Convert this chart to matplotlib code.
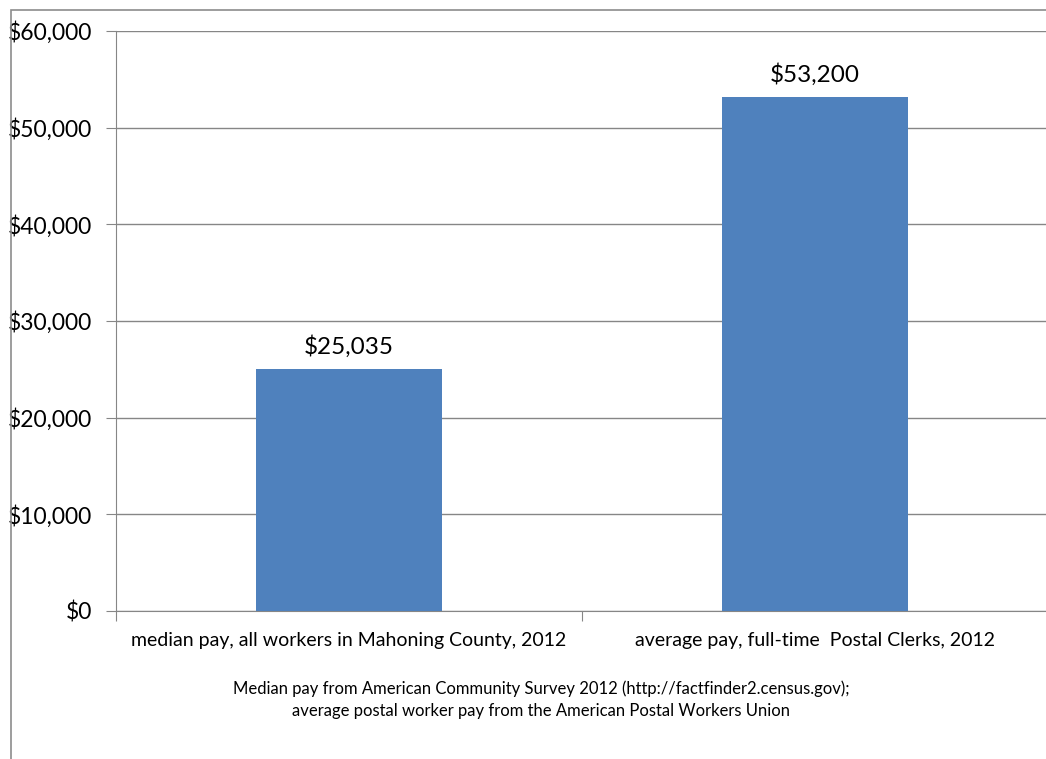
import matplotlib.pyplot as plt
from matplotlib.patches import Rectangle
from matplotlib.ticker import FuncFormatter

categories = ['median pay, all workers in Mahoning County, 2012',
              'average pay, full-time  Postal Clerks, 2012']
values = [25035, 53200]
yticks = [0, 10000, 20000, 30000, 40000, 50000, 60000]
note = ('Median pay from American Community Survey 2012 (http://factfinder2.census.gov);\n'
        'average postal worker pay from the American Postal Workers Union')

plt.rcParams['font.family'] = ['Lato', 'DejaVu Sans']

W, H = 1046, 759
fig = plt.figure(figsize=(W / 100, H / 100), dpi=100)
ax = fig.add_axes([116 / W, 1 - 611 / H, (1048 - 116) / W, (611 - 31) / H])

# outer chart border
fig.patches.append(Rectangle((11 / W, -0.05), 1.1, 1 - 10 / H + 0.05,
                             transform=fig.transFigure, fill=False,
                             edgecolor='#8c8c8c', linewidth=1.2))

x = range(len(categories))
bars = ax.bar(x, values, width=0.397, color='#4F81BD', zorder=3)
ax.set_xlim(-0.5, 1.5)
ax.set_ylim(0, 60000)
ax.set_yticks(yticks)
ax.yaxis.set_major_formatter(FuncFormatter(lambda v, p: '${:,.0f}'.format(v)))
ax.grid(axis='y', color='#868686', linewidth=1, zorder=0)

ax.set_xticks([-0.5, 0.5, 1.5])
ax.set_xticklabels([])
ax.set_xticks([0, 1], minor=True)
ax.set_xticklabels(categories, minor=True, fontsize=14)
ax.tick_params(axis='x', which='minor', length=0, pad=15)
ax.tick_params(axis='x', which='major', length=7, color='#868686')
ax.tick_params(axis='y', length=7, color='#868686', labelsize=16.5, pad=10)

for s in ['top', 'right']:
    ax.spines[s].set_visible(False)
for s in ['left', 'bottom']:
    ax.spines[s].set_color('#868686')

for b, v in zip(bars, values):
    ax.annotate('${:,.0f}'.format(v), (b.get_x() + b.get_width() / 2, v),
                xytext=(0, 8), textcoords='offset points',
                ha='center', va='bottom', fontsize=17.5)

fig.text(541 / W, 1 - 700 / H, note, ha='center', va='center',
         fontsize=12, linespacing=1.45)

fig.savefig('out.png', dpi=100)
